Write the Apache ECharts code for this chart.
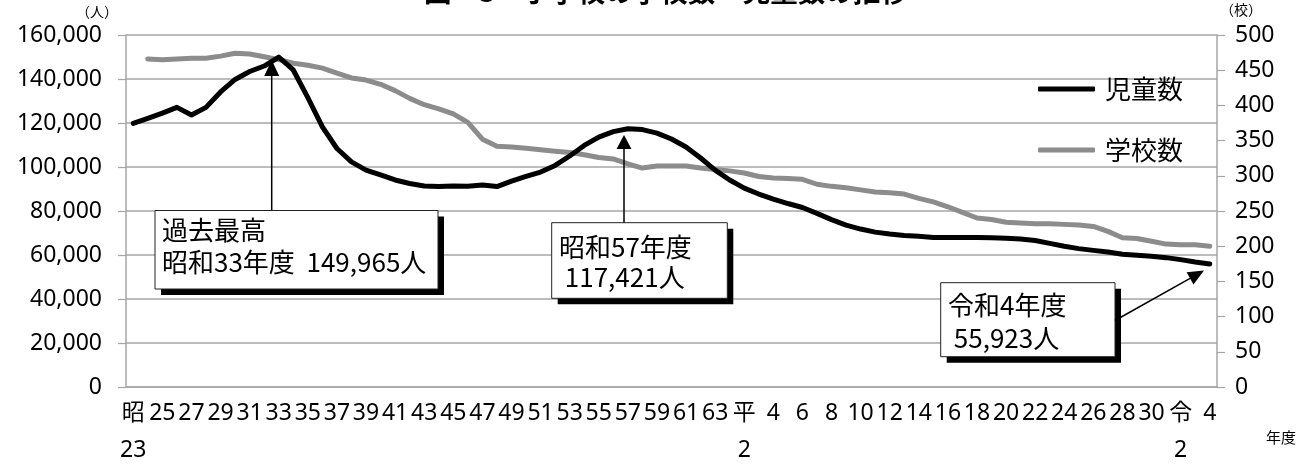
<!DOCTYPE html>
<html>
<head>
<meta charset="utf-8">
<script src="https://cdn.jsdelivr.net/npm/echarts@6/dist/echarts.min.js"></script>
<style>
html,body{margin:0;padding:0;background:#fff;}
#c{width:1306px;height:470px;}
</style>
</head>
<body>
<div id="c"></div>
<script>
// ---- data ----
const categories = [
 '昭23','昭24','昭25','昭26','昭27','昭28','昭29','昭30','昭31','昭32',
 '昭33','昭34','昭35','昭36','昭37','昭38','昭39','昭40','昭41','昭42',
 '昭43','昭44','昭45','昭46','昭47','昭48','昭49','昭50','昭51','昭52',
 '昭53','昭54','昭55','昭56','昭57','昭58','昭59','昭60','昭61','昭62',
 '昭63','平1','平2','平3','平4','平5','平6','平7','平8','平9',
 '平10','平11','平12','平13','平14','平15','平16','平17','平18','平19',
 '平20','平21','平22','平23','平24','平25','平26','平27','平28','平29',
 '平30','令1','令2','令3','令4'
];
const eraStartLabels = ['昭23','平2','令2'];
const children = [
 119850,122100,124500,127100,123600,127100,134100,139800,143400,145900,
 149965,144100,131500,118200,108400,102300,98600,96400,94100,92500,
 91400,91100,91400,91300,91800,91100,93600,95700,97700,100700,
 105000,109800,113600,116100,117421,117000,115400,112700,109100,104100,
 98600,94100,90400,87700,85400,83400,81600,78900,76100,73600,
 71800,70400,69500,68900,68500,68000,68000,68000,68000,67800,
 67600,67300,66600,65300,64000,62900,62100,61400,60300,59900,
 59400,58800,57900,56800,55923
];
const schools = [
 null,466,465,466,467,467,470,474,473,469,
 465,460,457,453,446,439,436,430,421,410,
 401,395,388,376,352,342,341,339,337,335,
 333,330,326,324,317,311,314,314,314,311,
 309,307,304,299,297,296,295,288,285,283,
 280,277,276,274,268,263,256,248,240,238,
 234,233,232,232,231,230,228,221,212,211,
 207,203,202,202,200
];
const titleText = '図　3　小学校の学校数・児童数の推移';
const noteLines = [
 '過去最高\n昭和33年度  149,965人',
 '昭和57年度\n 117,421人',
 '令和4年度\n 55,923人'
];

// ---- chart ----
const chart = echarts.init(document.getElementById('c'));
const gridCol = '#a6a6a6';
const jp = '"Noto Sans CJK JP", sans-serif';
const num = '"Noto Sans", "Noto Sans CJK JP", sans-serif';

function box(x, y, w, h, text, tx, ty, lh) {
  return [
    {type:'rect', shape:{x:x+6, y:y+6, width:w, height:h}, style:{fill:'#000'}, z:100},
    {type:'rect', shape:{x:x, y:y, width:w, height:h}, style:{fill:'#fff', stroke:'#222', lineWidth:1}, z:101},
    {type:'text', x:tx, y:ty, style:{text:text, font:'26px ' + jp, fill:'#000', lineHeight:lh, verticalAlign:'top'}, z:102}
  ];
}
function arrow(x1, y1, x2, y2, len, half) {
  const dx = x2 - x1, dy = y2 - y1, L = Math.sqrt(dx*dx + dy*dy);
  const ux = dx / L, uy = dy / L, px = -uy, py = ux;
  const bx = x2 - ux * len, by = y2 - uy * len;
  return [
    {type:'line', shape:{x1:x1, y1:y1, x2:bx, y2:by}, style:{stroke:'#000', lineWidth:1.5}, z:103},
    {type:'polygon', shape:{points:[[x2,y2],[bx+px*half, by+py*half],[bx-px*half, by-py*half]]}, style:{fill:'#000'}, z:103}
  ];
}

const graphics = [].concat(
  box(155, 210.5, 283, 78.5, noteLines[0], 162, 214, 32),
  arrow(271.7, 210.5, 271.7, 60, 16, 7.5),
  box(551.7, 222.7, 175.6, 75.6, noteLines[1], 559, 231.7, 30),
  arrow(624, 222.7, 624, 135, 14, 7.5),
  box(940.7, 282.7, 174.3, 74, noteLines[2], 948, 288.5, 33),
  arrow(1115, 320.5, 1204, 270.5, 16, 7),
  [
    {type:'text', x:97, y:12, style:{text:'（人）', font:'14px ' + jp, fill:'#000', align:'center', verticalAlign:'middle'}},
    {type:'text', x:1241, y:10, style:{text:'（校）', font:'14px ' + jp, fill:'#000', align:'center', verticalAlign:'middle'}},
    {type:'text', x:1281, y:437, style:{text:'年度', font:'15px ' + jp, fill:'#000', align:'center', verticalAlign:'middle'}}
  ]
);

chart.setOption({
  animation: false,
  backgroundColor: '#fff',
  title: {
    text: titleText, left: 424, top: -22, padding: 0,
    textStyle: {fontSize: 27.5, fontWeight: 'bold', fontFamily: 'Noto Sans CJK JP', color: '#000'}
  },
  legend: {
    orient: 'vertical', left: 1038, top: 76, itemGap: 35, padding: 0,
    itemWidth: 57, itemHeight: 5, icon: 'roundRect',
    data: ['児童数', '学校数'],
    textStyle: {fontSize: 26, fontFamily: 'Noto Sans CJK JP', color: '#000', padding: [0,0,0,5]}
  },
  grid: {left: 126, right: 89, top: 35, bottom: 83, containLabel: false},
  xAxis: {
    type: 'category', data: categories, boundaryGap: true,
    axisLine: {lineStyle: {color: gridCol, width: 1.5}},
    axisTick: {inside: true, length: 5, interval: 0, lineStyle: {color: gridCol, width: 1.2}},
    axisLabel: {
      interval: 1, margin: 8, fontSize: 23, lineHeight: 37, color: '#000', fontFamily: num,
      formatter: function (v) {
        const era = v.charAt(0), n = v.slice(1);
        return eraStartLabels.indexOf(v) >= 0 ? era + '\n' + n : n;
      }
    },
    splitLine: {show: false}
  },
  yAxis: [
    {
      type: 'value', min: 0, max: 160000, interval: 20000,
      axisLine: {show: true, lineStyle: {color: gridCol, width: 1.5}},
      axisTick: {show: true, length: 8, lineStyle: {color: gridCol, width: 1.2}},
      axisLabel: {margin: 24, fontSize: 23, color: '#000', fontFamily: num},
      splitLine: {lineStyle: {color: gridCol, width: 1.5}}
    },
    {
      type: 'value', min: 0, max: 500, interval: 50, position: 'right',
      axisLine: {show: true, lineStyle: {color: gridCol, width: 1.5}},
      axisTick: {show: true, length: 8, lineStyle: {color: gridCol, width: 1.2}},
      axisLabel: {margin: 18, fontSize: 23, color: '#000', fontFamily: num},
      splitLine: {show: false}
    }
  ],
  series: [
    {
      name: '学校数', type: 'line', yAxisIndex: 1, data: schools,
      symbol: 'none', color: '#8c8c8c',
      lineStyle: {width: 5, color: '#8c8c8c', join: 'round', cap: 'round'}
    },
    {
      name: '児童数', type: 'line', yAxisIndex: 0, data: children,
      symbol: 'none', color: '#000',
      lineStyle: {width: 5, color: '#000', join: 'round', cap: 'round'}
    }
  ],
  graphic: graphics
});
</script>
</body>
</html>
